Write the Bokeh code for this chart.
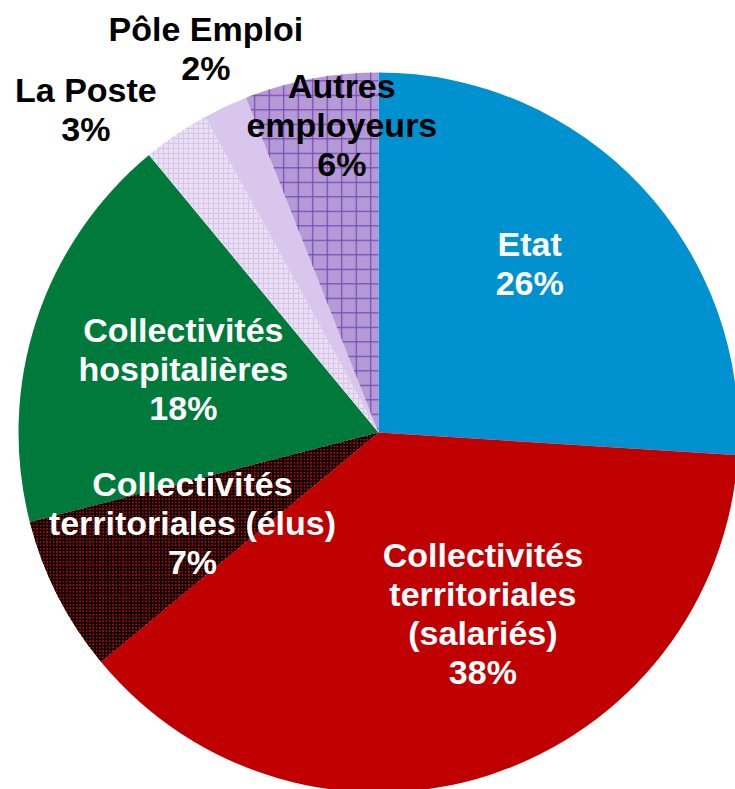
import math
from bokeh.plotting import figure
from bokeh.models import ColumnDataSource, Range1d
from bokeh.core.properties import value
from bokeh.embed import file_html
from bokeh.resources import INLINE

# ---- data ----
categories = ["Etat", "Collectivités\nterritoriales\n(salariés)", "Collectivités\nterritoriales (élus)",
              "Collectivités\nhospitalières", "La Poste", "Pôle Emploi", "Autres\nemployeurs"]
shares = [26, 38, 7, 18, 3, 2, 6]

# ---- styles ----
fills = ["#0092D0", "#C00000", "#D00000", "#007A3A", "#EADFF3", "#D9C6EC", "#B49AD6"]
hatches = [" ", " ", "+", " ", "+", " ", "+"]
hatch_colors = ["black", "black", "black", "black", "#D6C4EA", "black", "#7A48B2"]
hatch_scales = [12, 12, 3.3, 12, 5, 12, 14.5]
hatch_weights = [1, 1, 2.0, 1, 1, 1, 1.2]
label_colors = ["white", "white", "white", "white", "black", "black", "black"]
label_rfrac = [0.63, 0.58, 0.575, 0.57, 1.21, 1.17, 0.86]
label_dang = [5, 12, -1, 0, 8, -1, -4]

R = 360
start, end, mids = [], [], []
cum = 0.0
for s in shares:
    a0 = 90 - (cum + s) * 3.6
    a1 = 90 - cum * 3.6
    start.append(math.radians(a0))
    end.append(math.radians(a1))
    mids.append((a0 + a1) / 2)
    cum += s

lx = [R * f * math.cos(math.radians(m + d)) for m, f, d in zip(mids, label_rfrac, label_dang)]
ly = [R * f * math.sin(math.radians(m + d)) for m, f, d in zip(mids, label_rfrac, label_dang)]
labels = [f"{c}\n{s}%" for c, s in zip(categories, shares)]

src = ColumnDataSource(dict(start=start, end=end, fill=fills, hatch=hatches, hc=hatch_colors,
                            hs=hatch_scales, hw=hatch_weights))
lsrc = ColumnDataSource(dict(x=lx, y=ly, text=labels, color=label_colors))

p = figure(width=735, height=789, output_backend="svg", toolbar_location=None,
           x_range=Range1d(-378, 357), y_range=Range1d(-357, 432),
           min_border=0, background_fill_color="white", border_fill_color="white")
p.xaxis.visible = False
p.yaxis.visible = False
p.grid.visible = False
p.outline_line_color = None

p.wedge(x=0, y=0, radius=R, start_angle="start", end_angle="end", source=src,
        fill_color="fill", line_color=None, hatch_pattern="hatch", hatch_color="hc",
        hatch_scale="hs", hatch_weight="hw")

p.text(x="x", y="y", text="text", source=lsrc, text_color="color",
       text_font=value("Liberation Sans"), text_font_style="bold", text_font_size="34px",
       text_align="center", text_baseline="middle", text_line_height=1.03)

open("out.html", "w").write(file_html(p, INLINE))
